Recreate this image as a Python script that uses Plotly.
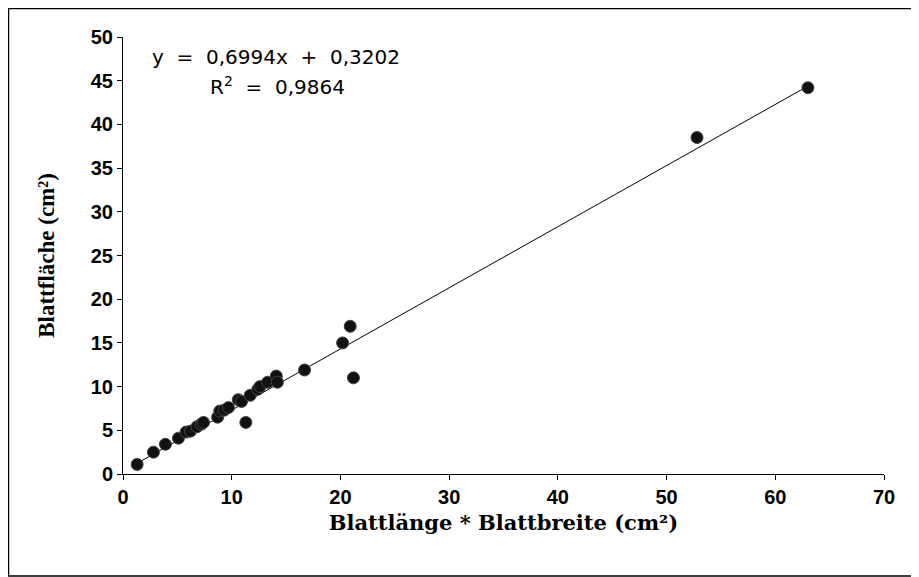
import plotly.graph_objects as go

# Data
x_vals = [1.3, 2.8, 3.9, 5.1, 5.8, 6.2, 6.8, 7.2, 7.4, 8.7, 8.9, 9.3, 9.7, 10.6, 10.9,
          11.3, 11.7, 12.4, 12.6, 13.3, 14.1, 14.2, 16.7, 20.2, 20.9, 21.2, 52.8, 63.0]
y_vals = [1.1, 2.5, 3.4, 4.1, 4.8, 4.9, 5.4, 5.7, 5.9, 6.5, 7.2, 7.3, 7.6, 8.5, 8.3,
          5.9, 9.0, 9.7, 10.0, 10.5, 11.2, 10.5, 11.9, 15.0, 16.9, 11.0, 38.5, 44.2]
slope = 0.6994
intercept = 0.3202
r_squared = 0.9864

x_title = "Blattlänge * Blattbreite (cm²)"
y_title = "Blattfläche (cm²)"

def de(v):
    return f"{v:.4f}".replace(".", ",")

trend_x = [min(x_vals), max(x_vals)]
trend_y = [slope * v + intercept for v in trend_x]

fig = go.Figure()
fig.add_trace(go.Scatter(x=trend_x, y=trend_y, mode="lines",
                         line=dict(color="black", width=1), showlegend=False,
                         hoverinfo="skip"))
fig.add_trace(go.Scatter(x=x_vals, y=y_vals, mode="markers",
                         marker=dict(symbol="circle", size=12, color="#111111",
                                     line=dict(color="#444444", width=1)),
                         showlegend=False))

sp = "\u00a0"
eq_font = dict(family="DejaVu Sans, Arial", size=20, color="black")
fig.add_annotation(x=0.201, y=0.954, xref="paper", yref="paper",
                   text=f"y{sp}{sp}={sp}{sp}{de(slope)}x{sp}{sp}+{sp}{sp}{de(intercept)}",
                   showarrow=False, xanchor="center", yanchor="middle", font=eq_font)
fig.add_annotation(x=0.203, y=0.888, xref="paper", yref="paper",
                   text=f"R<sup>2</sup>{sp}{sp}={sp}{sp}{de(r_squared)}",
                   showarrow=False, xanchor="center", yanchor="middle", font=eq_font)

# outer frame
fig.add_shape(type="rect", xref="paper", yref="paper",
              x0=-0.1505, x1=1.0407, y0=-0.2334, y1=1.0652,
              line=dict(color="black", width=1.5), fillcolor="rgba(0,0,0,0)")

fig.update_layout(
    width=911, height=569,
    margin=dict(l=115, r=35, t=29, b=103),
    paper_bgcolor="white", plot_bgcolor="white",
    font=dict(family="Liberation Sans, Arial", color="black"),
)
tick_font = dict(family="Liberation Sans, Arial", size=20, color="black", weight="bold")
fig.update_xaxes(range=[0, 70], dtick=10, tick0=0, showgrid=False, zeroline=False,
                 showline=True, linecolor="black", linewidth=1,
                 ticks="outside", ticklen=5, tickcolor="black", tickfont=tick_font,
                 title=dict(text=f"<b>{x_title}</b>", standoff=8,
                            font=dict(family="DejaVu Serif, Liberation Serif", size=21)),
                 automargin=False)
fig.update_yaxes(range=[0, 50], dtick=5, tick0=0, showgrid=False, zeroline=False,
                 showline=True, linecolor="black", linewidth=1,
                 ticks="outside", ticklen=5, tickcolor="black", tickfont=tick_font,
                 title=dict(text=f"<b>{y_title}</b>", standoff=29,
                            font=dict(family="Liberation Serif, Times New Roman", size=23)),
                 automargin=False)

fig.write_html("out.html")
